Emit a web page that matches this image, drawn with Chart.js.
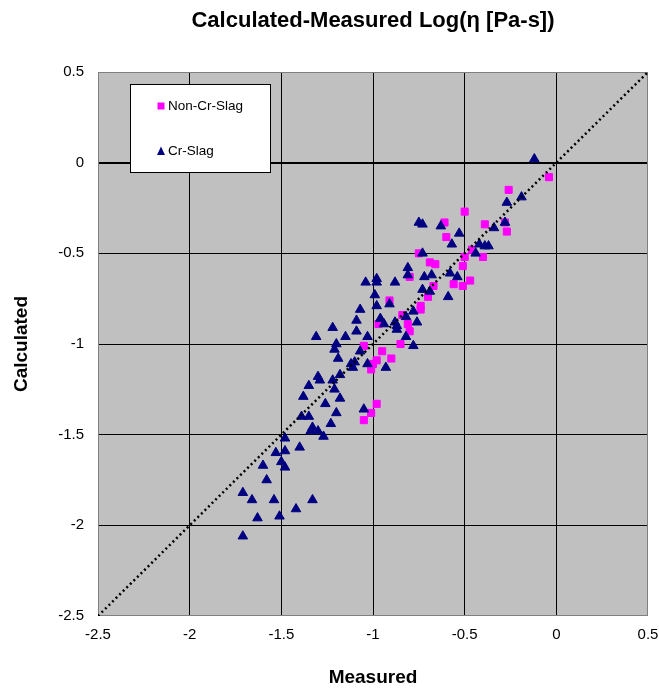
<!DOCTYPE html>
<html>
<head>
<meta charset="utf-8">
<script src="https://cdn.jsdelivr.net/npm/chart.js@4/dist/chart.umd.min.js"></script>
<style>
  html, body { margin: 0; padding: 0; background: #ffffff; }
  #wrap { width: 659px; height: 690px; }
</style>
</head>
<body>
<div id="wrap"><canvas id="chart" width="659" height="690"></canvas></div>
<script>
// values
const nonCrMeasured = [
    -0.75, -0.69, -0.66, -0.80, -0.67, -0.70, -0.91, -0.74, -0.74, -0.84,
    -0.97, -0.81, -0.80, -0.85, -1.05, -0.95, -0.90, -0.98, -1.00, -1.01,
    -0.98, -1.01, -1.05, -0.04, -0.26, -0.50, -0.61, -0.39, -0.28, -0.27,
    -0.60, -0.50, -0.46, -0.40, -0.51, -0.56, -0.51, -0.47,
];
const nonCrCalculated = [
    -0.50, -0.55, -0.56, -0.63, -0.68, -0.74, -0.76, -0.79, -0.81, -0.84,
    -0.89, -0.89, -0.93, -1.00, -1.01, -1.04, -1.08, -1.09, -1.11, -1.14,
    -1.33, -1.38, -1.42, -0.08, -0.15, -0.27, -0.33, -0.34, -0.33, -0.38,
    -0.41, -0.52, -0.48, -0.52, -0.57, -0.67, -0.68, -0.65,
];
const crMeasured = [
    -0.75, -0.73, -0.63, -0.73, -0.81, -0.81, -0.72, -0.68, -1.04, -0.98,
    -0.98, -0.88, -0.73, -0.69, -0.99, -0.91, -0.98, -1.07, -0.78, -1.09,
    -0.96, -0.94, -0.88, -0.87, -0.87, -0.82, -0.76, -1.22, -1.09, -1.15,
    -1.31, -1.03, -1.20, -1.21, -1.19, -0.82, -0.78, -1.07, -1.12, -1.10,
    -1.03, -1.11, -0.93, -1.30, -1.29, -1.35, -1.22, -1.18, -1.21, -1.38,
    -1.18, -1.26, -1.20, -1.05, -1.39, -1.35, -1.23, -1.33, -1.34, -1.30,
    -1.27, -1.48, -1.40, -1.48, -1.53, -1.50, -1.48, -1.60, -1.58, -1.71,
    -1.66, -1.54, -1.33, -1.42, -1.63, -1.51, -1.71, -0.12, -0.27, -0.19,
    -0.28, -0.34, -0.53, -0.57, -0.42, -0.39, -0.37, -0.44, -0.58, -0.54,
    -0.59,
];
const crCalculated = [
    -0.33, -0.34, -0.35, -0.50, -0.58, -0.62, -0.63, -0.62, -0.66, -0.64,
    -0.66, -0.66, -0.70, -0.71, -0.73, -0.78, -0.79, -0.81, -0.82, -0.87,
    -0.86, -0.89, -0.88, -0.90, -0.92, -0.85, -0.88, -0.91, -0.93, -0.96,
    -0.96, -0.96, -1.00, -1.03, -1.08, -0.96, -1.01, -1.04, -1.11, -1.10,
    -1.11, -1.13, -1.13, -1.18, -1.20, -1.23, -1.20, -1.17, -1.25, -1.29,
    -1.30, -1.33, -1.38, -1.36, -1.40, -1.40, -1.44, -1.46, -1.48, -1.48,
    -1.51, -1.52, -1.57, -1.59, -1.60, -1.65, -1.68, -1.67, -1.75, -1.82,
    -1.86, -1.86, -1.86, -1.91, -1.96, -1.95, -2.06, 0.02, -0.22, -0.19,
    -0.33, -0.36, -0.39, -0.45, -0.45, -0.46, -0.46, -0.50, -0.61, -0.63,
    -0.74,
];
// 1:1 reference line
const diagonal = [-2.5, 0.5];
const axisMin = -2.5;
const axisMax = 0.5;
const axisStep = 0.5;

const FONT = "'Liberation Sans', Arial, sans-serif";
const PINK = '#ff00ff';
const NAVY = '#000080';

const toPoints = (xs, ys) => xs.map((x, i) => ({ x: x, y: ys[i] }));

// grey plot area, frame and the legend box inside the plot
const plotDecor = {
    id: 'plotDecor',
    beforeDraw(chart) {
        const { ctx, chartArea: a } = chart;
        ctx.save();
        ctx.fillStyle = '#c0c0c0';
        ctx.fillRect(a.left, a.top, a.right - a.left, a.bottom - a.top);
        ctx.restore();
    },
    beforeDatasetsDraw(chart) {
        const { ctx, chartArea: a } = chart;
        ctx.save();
        ctx.strokeStyle = '#808080';
        ctx.lineWidth = 1;
        ctx.strokeRect(Math.round(a.left) + 0.5, Math.round(a.top) + 0.5,
            Math.round(a.right - a.left) - 1, Math.round(a.bottom - a.top) - 1);
        ctx.restore();
    },
    afterDraw(chart) {
        const { ctx, chartArea: a } = chart;
        const bx = Math.round(a.left) + 32;
        const by = Math.round(a.top) + 12;
        ctx.save();
        ctx.fillStyle = '#ffffff';
        ctx.fillRect(bx, by, 141, 89);
        ctx.strokeStyle = '#000000';
        ctx.lineWidth = 1;
        ctx.strokeRect(bx + 0.5, by + 0.5, 140, 88);

        const mx = bx + 31;
        // square entry
        ctx.fillStyle = PINK;
        ctx.fillRect(mx - 3.5, by + 18.5, 7, 7);
        // triangle entry
        ctx.fillStyle = NAVY;
        ctx.beginPath();
        ctx.moveTo(mx, by + 62.5);
        ctx.lineTo(mx + 4, by + 71);
        ctx.lineTo(mx - 4, by + 71);
        ctx.closePath();
        ctx.fill();

        ctx.fillStyle = '#000000';
        ctx.font = '13.5px ' + FONT;
        ctx.textBaseline = 'middle';
        ctx.textAlign = 'left';
        ctx.fillText(chart.data.datasets[0].label, bx + 38, by + 22);
        ctx.fillText(chart.data.datasets[1].label, bx + 38, by + 67);
        ctx.restore();
    },
};

const edgeOrGrid = (ctx) => {
    const v = ctx.tick ? ctx.tick.value : null;
    if (v === axisMin || v === axisMax) return 'rgba(0,0,0,0)';
    return '#000000';
};

const tickText = (value) => String(Math.round(value * 10) / 10);

new Chart(document.getElementById('chart'), {
    type: 'scatter',
    data: {
        datasets: [
            {
                label: 'Non-Cr-Slag',
                data: toPoints(nonCrMeasured, nonCrCalculated),
                pointStyle: 'rect',
                pointRadius: 5,
                borderWidth: 1,
                backgroundColor: PINK,
                borderColor: PINK,
                order: 2,
            },
            {
                label: 'Cr-Slag',
                data: toPoints(crMeasured, crCalculated),
                pointStyle: 'triangle',
                pointRadius: 5.5,
                borderWidth: 1,
                backgroundColor: NAVY,
                borderColor: NAVY,
                order: 1,
            },
            {
                label: 'y = x',
                type: 'line',
                data: toPoints(diagonal, diagonal),
                borderColor: '#000000',
                borderWidth: 2.5,
                borderDash: [2, 3],
                pointRadius: 0,
                fill: false,
                order: 0,
            },
        ],
    },
    options: {
        responsive: false,
        animation: false,
        events: [],
        layout: { padding: { top: 0, left: 0, right: 11, bottom: 0 } },
        plugins: {
            legend: { display: false },
            tooltip: { enabled: false },
            title: {
                display: true,
                text: 'Calculated-Measured Log(η [Pa-s])',
                color: '#000000',
                fullSize: false,
                font: { family: FONT, size: 22, weight: 'bold' },
                padding: { top: 8, bottom: 37.6 },
            },
        },
        scales: {
            x: {
                type: 'linear',
                min: axisMin,
                max: axisMax,
                afterFit(scale) {
                    scale.height = 74;
                    scale.paddingLeft = 0;
                    scale.paddingRight = 0;
                },
                ticks: {
                    stepSize: axisStep,
                    color: '#000000',
                    padding: 10,
                    font: { family: FONT, size: 15 },
                    callback: tickText,
                },
                grid: {
                    color: edgeOrGrid,
                    lineWidth: 1,
                    drawTicks: false,
                },
                border: { display: false },
                title: {
                    display: true,
                    text: 'Measured',
                    color: '#000000',
                    font: { family: FONT, size: 19, weight: 'bold' },
                    padding: { top: 0, bottom: 1 },
                },
            },
            y: {
                type: 'linear',
                min: axisMin,
                max: axisMax,
                afterFit(scale) { scale.width = 98; },
                ticks: {
                    stepSize: axisStep,
                    color: '#000000',
                    padding: 14,
                    font: { family: FONT, size: 15 },
                    callback: tickText,
                },
                grid: {
                    color: edgeOrGrid,
                    lineWidth: (ctx) => (ctx.tick && ctx.tick.value === 0 ? 2 : 1),
                    drawTicks: false,
                },
                border: { display: false },
                title: {
                    display: true,
                    text: 'Calculated',
                    color: '#000000',
                    font: { family: FONT, size: 19, weight: 'bold' },
                    padding: { top: 10, bottom: 0 },
                },
            },
        },
    },
    plugins: [plotDecor],
});
</script>
</body>
</html>
